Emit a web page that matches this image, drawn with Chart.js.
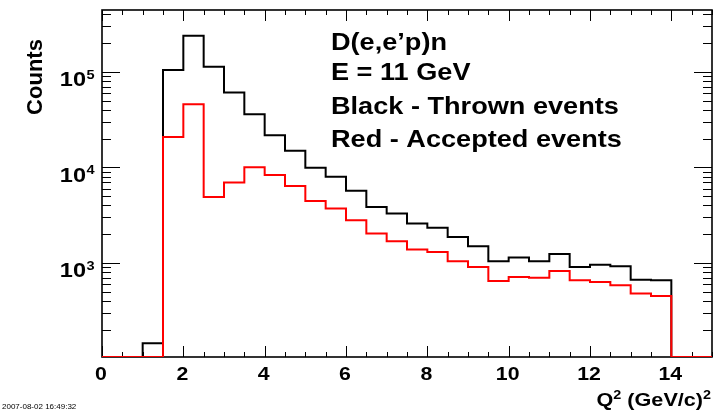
<!DOCTYPE html>
<html>
<head>
<meta charset="utf-8">
<script src="https://cdn.jsdelivr.net/npm/chart.js@4.4.0/dist/chart.umd.min.js"></script>
<style>
  html, body { margin: 0; padding: 0; background: #fff; }
  canvas { display: block; }
</style>
</head>
<body>
<canvas id="q2Chart" width="727" height="412"></canvas>
<script>
// Q^2 bin left edges, 0.5 GeV^2 wide, histogram runs 0..15
const q2Edges = [0, 0.5, 1, 1.5, 2, 2.5, 3, 3.5, 4, 4.5, 5, 5.5, 6, 6.5, 7, 7.5,
                 8, 8.5, 9, 9.5, 10, 10.5, 11, 11.5, 12, 12.5, 13, 13.5, 14, 14.5];
const q2Max = 15;

// counts per bin
const thrownCounts = [0, 0, 145, 104000, 238000, 113000, 60800, 36000, 21700, 14900,
                      9900, 8000, 5700, 3860, 3290, 2590, 2340, 1870, 1500, 1040,
                      1140, 1040, 1240, 908, 961, 923, 670, 659, 0, 0];
const acceptedCounts = [0, 0, 0, 20800, 45600, 4910, 6950, 10000, 8300, 6400,
                        4460, 3710, 2800, 2030, 1690, 1380, 1300, 1040, 908, 649,
                        713, 703, 824, 659, 633, 584, 479, 451, 0, 0];

const xTickLabels = [0, 2, 4, 6, 8, 10, 12, 14];
const yDecadeExps = [3, 4, 5];
const legendLines = ['D(e,e\u2019p)n', 'E = 11 GeV', 'Black - Thrown events', 'Red - Accepted events'];

const yMin = 104;
const yMax = 4.42e5;
const FONT = '"Liberation Sans", Arial, Helvetica, sans-serif';

// empty bins sit on the bottom of the frame, like ROOT does on a log axis
function histPoints(counts) {
    const pts = counts.map((c, i) => ({ x: q2Edges[i], y: Math.max(c, yMin) }));
    pts.push({ x: q2Max, y: Math.max(counts[counts.length - 1], yMin) });
    return pts;
}

function stretchText(ctx, str, x, y, size, align, sx, weight) {
    ctx.save();
    ctx.font = (weight || 'bold') + ' ' + size + 'px ' + FONT;
    ctx.translate(x, y);
    ctx.scale(sx, 1);
    ctx.textAlign = align;
    ctx.textBaseline = 'alphabetic';
    ctx.fillStyle = '#000';
    ctx.fillText(str, 0, 0);
    ctx.restore();
}

function textWidth(ctx, str, size, sx) {
    ctx.save();
    ctx.font = 'bold ' + size + 'px ' + FONT;
    const w = ctx.measureText(str).width * sx;
    ctx.restore();
    return w;
}

// frame, inward ticks on all four sides
const rootFrame = {
    id: 'rootFrame',
    beforeDatasetsDraw(chart) {
        const { ctx, chartArea: a, scales: { x, y } } = chart;
        ctx.save();
        ctx.strokeStyle = '#000';
        ctx.lineWidth = 1;
        ctx.beginPath();
        for (let v = 0; v <= q2Max + 1e-9; v += 0.5) {
            const px = Math.round(x.getPixelForValue(v)) + 0.5;
            const len = (v % 2 === 0) ? 11 : 5;
            ctx.moveTo(px, a.bottom); ctx.lineTo(px, a.bottom - len);
            ctx.moveTo(px, a.top); ctx.lineTo(px, a.top + len);
        }
        for (let d = 2; d <= 5; d++) {
            for (let m = 1; m <= 9; m++) {
                const v = m * Math.pow(10, d);
                if (v <= yMin || v >= yMax) continue;
                const py = Math.round(y.getPixelForValue(v)) + 0.5;
                const len = m === 1 ? 18 : 9;
                ctx.moveTo(a.left, py); ctx.lineTo(a.left + len, py);
                ctx.moveTo(a.right, py); ctx.lineTo(a.right - len, py);
            }
        }
        ctx.stroke();
        ctx.lineWidth = 1.6;
        ctx.strokeRect(a.left, a.top, a.right - a.left, a.bottom - a.top);
        ctx.restore();
    },
    afterDraw(chart) {
        const { ctx, scales: { x, y } } = chart;

        // x tick labels
        xTickLabels.forEach(v => {
            stretchText(ctx, String(v), x.getPixelForValue(v) - 1, 379.5, 19, 'center', 1.12);
        });

        // y tick labels 10^n
        yDecadeExps.forEach(e => {
            const py = y.getPixelForValue(Math.pow(10, e));
            stretchText(ctx, '10', 86, py + 14.5, 21, 'right', 1.12);
            stretchText(ctx, String(e), 86.5, py + 6.8, 13, 'left', 1.12);
        });

        // axis titles
        ctx.save();
        ctx.translate(42, 77);
        ctx.rotate(-Math.PI / 2);
        ctx.font = 'bold 22px ' + FONT;
        ctx.textAlign = 'center';
        ctx.fillStyle = '#000';
        ctx.fillText('Counts', 0, 0);
        ctx.restore();

        const sx = 1.2;
        const parts = [['Q', 18, 406], ['2', 12, 399], [' (GeV/c)', 18, 406], ['2', 12, 399]];
        let px = 711 - parts.reduce((s, p) => s + textWidth(ctx, p[0], p[1], sx), 0);
        parts.forEach(p => {
            stretchText(ctx, p[0], px, p[2], p[1], 'left', sx);
            px += textWidth(ctx, p[0], p[1], sx);
        });

        // annotation block
        const baselines = [49.5, 80, 113.5, 146.5];
        legendLines.forEach((t, i) => stretchText(ctx, t, 331, baselines[i], 24, 'left', 1.13));

        // date stamp
        stretchText(ctx, '2007-08-02 16:49:32', 2, 409, 8, 'left', 1, 'normal');
    }
};

new Chart(document.getElementById('q2Chart'), {
    type: 'line',
    data: {
        datasets: [
            {
                label: 'Accepted',
                data: histPoints(acceptedCounts),
                borderColor: '#ff0000',
                borderWidth: 2,
                stepped: 'before',
                pointRadius: 0,
                fill: false,
                order: 1
            },
            {
                label: 'Thrown',
                data: histPoints(thrownCounts),
                borderColor: '#000000',
                borderWidth: 2,
                stepped: 'before',
                pointRadius: 0,
                fill: false,
                order: 2
            }
        ]
    },
    options: {
        responsive: false,
        animation: false,
        layout: { padding: { left: 102, right: 15, top: 10, bottom: 55 } },
        plugins: { legend: { display: false }, tooltip: { enabled: false } },
        scales: {
            x: { type: 'linear', min: 0, max: q2Max, bounds: 'data', display: false },
            y: { type: 'logarithmic', min: yMin, max: yMax, bounds: 'data', display: false }
        }
    },
    plugins: [rootFrame]
});
</script>
</body>
</html>
